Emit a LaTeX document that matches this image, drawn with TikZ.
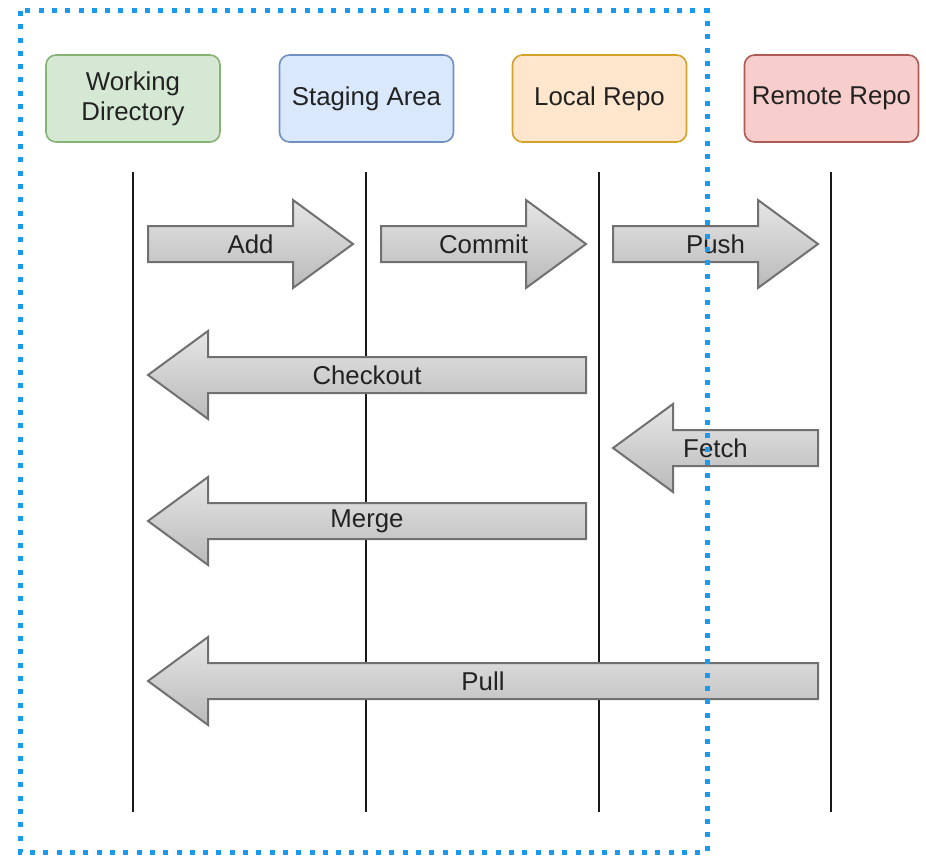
\documentclass[tikz,border=0pt]{standalone}
\usepackage{fontspec}
\setmainfont{Liberation Sans}
\definecolor{wdfill}{HTML}{D5E8D4}\definecolor{wdline}{HTML}{86B374}
\definecolor{safill}{HTML}{DAE8FC}\definecolor{saline}{HTML}{7091C0}
\definecolor{lrfill}{HTML}{FFE6CC}\definecolor{lrline}{HTML}{D4A12A}
\definecolor{rrfill}{HTML}{F8CECC}\definecolor{rrline}{HTML}{B05A56}
\definecolor{txt}{HTML}{222222}
\definecolor{frame}{HTML}{1A9AEF}
\definecolor{arrowedge}{HTML}{707070}
\tikzset{
  stage/.style={draw, rounded corners=10pt, line width=1.6pt,
    minimum width=174pt, minimum height=87pt, align=center,
    text=txt, font=\fontsize{25.8}{30}\selectfont},
  lifeline/.style={line width=2pt, draw=black!90},
  blockarrow/.style={draw=arrowedge, line width=2pt,
    top color=black!10, bottom color=black!27},
  arrowlabel/.style={text=txt, font=\fontsize{25.8}{30}\selectfont, inner sep=0pt},
  repoframe/.style={draw=frame, line width=5pt, dash pattern=on 5pt off 8.3pt}
}
% block arrow: name, tail x, tip x, centre y, label
\newcommand{\blockarrow}[5]{%
  \pgfmathsetmacro\hd{(#3>#2) ? -60 : 60}%
  \path[blockarrow] (#2,{#4-18}) -- ({#3+\hd},{#4-18}) -- ({#3+\hd},{#4-44})
    -- (#3,#4) -- ({#3+\hd},{#4+44}) -- ({#3+\hd},{#4+18}) -- (#2,{#4+18}) -- cycle;
  \node[arrowlabel] (#1) at ({(#2+#3)/2},#4) {#5};
}
\begin{document}
\begin{tikzpicture}[x=1pt, y=-1pt]
\useasboundingbox (0,0) rectangle (926,856);

% the four stages
\node[stage, fill=wdfill, draw=wdline] (wd) at (133,98.5) {Working\\Directory};
\node[stage, fill=safill, draw=saline] (sa) at (366.5,98.5) {Staging Area};
\node[stage, fill=lrfill, draw=lrline] (lr) at (599.5,98.5) {Local Repo};
\node[stage, fill=rrfill, draw=rrline] (rr) at (831.5,98.5) {Remote Repo};

% lifelines
\foreach \s/\x in {wd/133, sa/366, lr/599, rr/831} {
  \coordinate (\s top) at (\x,172);
  \coordinate (\s bot) at (\x,812);
  \draw[lifeline] (\s top) -- (\s bot);
}

% operations
\blockarrow{add}{148}{353}{244}{Add}
\blockarrow{commit}{381}{586}{244}{Commit}
\blockarrow{push}{613}{818}{244}{Push}
\blockarrow{checkout}{586}{148}{375}{Checkout}
\blockarrow{fetch}{818}{613}{448}{Fetch}
\blockarrow{merge}{586}{148}{521}{Merge}
\blockarrow{pull}{818}{148}{681}{Pull}

% local side enclosure
\draw[repoframe] (20,11) rectangle (707,852);
\end{tikzpicture}
\end{document}
